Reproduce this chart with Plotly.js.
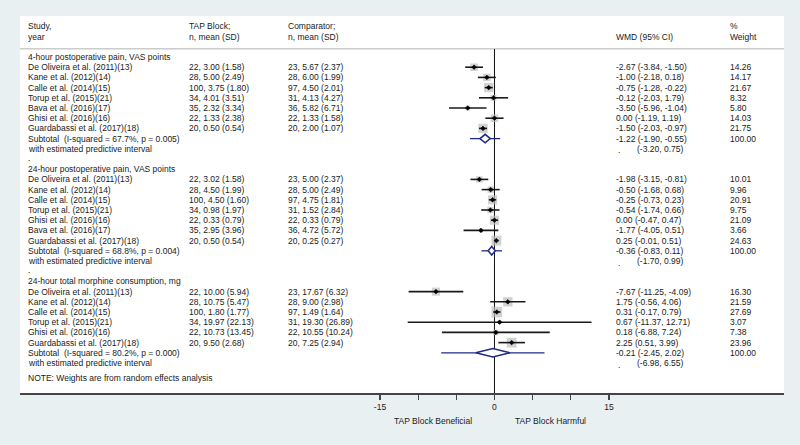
<!DOCTYPE html>
<html>
<head>
<meta charset="utf-8">
<script src="https://cdn.plot.ly/plotly-3.0.1.min.js"></script>
<style>html,body{margin:0;padding:0;background:#e9f0f2;}#chart{width:800px;height:445px;}</style>
</head>
<body>
<div id="chart"></div>
<script>
// ---------- DATA ----------
var groupTitles = ["4-hour postoperative pain, VAS points", "24-hour postoperative pain, VAS points", "24-hour total morphine consumption, mg"];

var studies1 = ["De Oliveira et al. (2011)(13)", "Kane et al. (2012)(14)", "Calle et al. (2014)(15)", "Torup et al. (2015)(21)", "Bava et al. (2016)(17)", "Ghisi et al. (2016)(16)", "Guardabassi et al. (2017)(18)"];
var tap1 = ["22, 3.00 (1.58)", "28, 5.00 (2.49)", "100, 3.75 (1.80)", "34, 4.01 (3.51)", "35, 2.32 (3.34)", "22, 1.33 (2.38)", "20, 0.50 (0.54)"];
var comp1 = ["23, 5.67 (2.37)", "28, 6.00 (1.99)", "97, 4.50 (2.01)", "31, 4.13 (4.27)", "36, 5.82 (6.71)", "22, 1.33 (1.58)", "20, 2.00 (1.07)"];
var wmd1 = [-2.67, -1.00, -0.75, -0.12, -3.50, 0.00, -1.50];
var lo1 = [-3.84, -2.18, -1.28, -2.03, -5.96, -1.19, -2.03];
var hi1 = [-1.50, 0.18, -0.22, 1.79, -1.04, 1.19, -0.97];
var w1 = [14.26, 14.17, 21.67, 8.32, 5.80, 14.03, 21.75];

var studies2 = ["De Oliveira et al. (2011)(13)", "Kane et al. (2012)(14)", "Calle et al. (2014)(15)", "Torup et al. (2015)(21)", "Ghisi et al. (2016)(16)", "Bava et al. (2016)(17)", "Guardabassi et al. (2017)(18)"];
var tap2 = ["22, 3.02 (1.58)", "28, 4.50 (1.99)", "100, 4.50 (1.60)", "34, 0.98 (1.97)", "22, 0.33 (0.79)", "35, 2.95 (3.96)", "20, 0.50 (0.54)"];
var comp2 = ["23, 5.00 (2.37)", "28, 5.00 (2.49)", "97, 4.75 (1.81)", "31, 1.52 (2.84)", "22, 0.33 (0.79)", "36, 4.72 (5.72)", "20, 0.25 (0.27)"];
var wmd2 = [-1.98, -0.50, -0.25, -0.54, 0.00, -1.77, 0.25];
var lo2 = [-3.15, -1.68, -0.73, -1.74, -0.47, -4.05, -0.01];
var hi2 = [-0.81, 0.68, 0.23, 0.66, 0.47, 0.51, 0.51];
var w2 = [10.01, 9.96, 20.91, 9.75, 21.09, 3.66, 24.63];

var studies3 = ["De Oliveira et al. (2011)(13)", "Kane et al. (2012)(14)", "Calle et al. (2014)(15)", "Torup et al. (2015)(21)", "Ghisi et al. (2016)(16)", "Guardabassi et al. (2017)(18)"];
var tap3 = ["22, 10.00 (5.94)", "28, 10.75 (5.47)", "100, 1.80 (1.77)", "34, 19.97 (22.13)", "22, 10.73 (13.45)", "20, 9.50 (2.68)"];
var comp3 = ["23, 17.67 (6.32)", "28, 9.00 (2.98)", "97, 1.49 (1.64)", "31, 19.30 (26.89)", "22, 10.55 (10.24)", "20, 7.25 (2.94)"];
var wmd3 = [-7.67, 1.75, 0.31, 0.67, 0.18, 2.25];
var lo3 = [-11.25, -0.56, -0.17, -11.37, -6.88, 0.51];
var hi3 = [-4.09, 4.06, 0.79, 12.71, 7.24, 3.99];
var w3 = [16.30, 21.59, 27.69, 3.07, 7.38, 23.96];

var subI2 = ["67.7%", "68.8%", "80.2%"];
var subP = ["0.005", "0.004", "0.000"];
var subEst = [-1.22, -0.36, -0.21];
var subLo = [-1.90, -0.83, -2.45];
var subHi = [-0.55, 0.11, 2.02];
var predLo = [-3.20, -1.70, -6.98];
var predHi = [0.75, 0.99, 6.55];

var tickVals = [-15, -10, -5, 0, 5, 10, 15];
var tickText = ["-15", "", "", "0", "", "", "15"];

// ---------- BUILD ----------
var groups = [
  {s: studies1, t: tap1, c: comp1, e: wmd1, lo: lo1, hi: hi1, w: w1},
  {s: studies2, t: tap2, c: comp2, e: wmd2, lo: lo2, hi: hi2, w: w2},
  {s: studies3, t: tap3, c: comp3, e: wmd3, lo: lo3, hi: hi3, w: w3}
];

var FONT = "Liberation Sans, Arial, sans-serif";
var FS = 8.5;
var TXT = "#1a1a1a";
var NAVY = "#1f2a80";
function px(x) { return (x - 20) / 764; }
var colStudy = px(26), colTap = px(187), colComp = px(286), colWmd = px(614), colW = px(728), colPred = px(635), colDot = px(616);

var ann = [];
function addText(x, y, text, opts) {
  var a = {xref: "paper", yref: "y", x: x, y: y, text: text, showarrow: false,
    xanchor: "left", yanchor: "middle", font: {family: FONT, size: FS, color: TXT}};
  if (opts) for (var k in opts) a[k] = opts[k];
  ann.push(a);
}
function f2(v) { return v.toFixed(2); }

// header
addText(colStudy, -3, "Study,");
addText(colStudy, -2, "year");
addText(colTap, -3, "TAP Block;");
addText(colTap, -2, "n, mean (SD)");
addText(colComp, -3, "Comparator;");
addText(colComp, -2, "n, mean (SD)");
addText(colWmd, -2, "WMD (95% CI)");
addText(colW, -3, "%");
addText(colW, -2, "Weight");

var ciX = [], ciY = [], boxX = [], boxY = [], boxS = [], ptX = [], ptY = [];
var predX = [], predY = [];
var diamonds = [];
var row = 0;
groups.forEach(function (g, gi) {
  addText(colStudy, row, groupTitles[gi]);
  row++;
  for (var i = 0; i < g.s.length; i++) {
    addText(colStudy, row, g.s[i]);
    addText(colTap, row, g.t[i]);
    addText(colComp, row, g.c[i]);
    addText(colWmd, row, f2(g.e[i]) + " (" + f2(g.lo[i]) + ", " + f2(g.hi[i]) + ")");
    addText(colW, row, f2(g.w[i]));
    ciX.push(g.lo[i], g.hi[i], null); ciY.push(row, row, null);
    boxX.push(g.e[i]); boxY.push(row); boxS.push(2.0 * Math.sqrt(g.w[i]));
    ptX.push(g.e[i]); ptY.push(row);
    row++;
  }
  // subtotal
  addText(colStudy, row, "Subtotal\u00a0 (I-squared = " + subI2[gi] + ", p = " + subP[gi] + ")");
  addText(colWmd, row, f2(subEst[gi]) + " (" + f2(subLo[gi]) + ", " + f2(subHi[gi]) + ")");
  addText(colW, row, "100.00");
  predX.push(predLo[gi], predHi[gi], null); predY.push(row, row, null);
  var h = 0.42;
  diamonds.push({x: [subLo[gi], subEst[gi], subHi[gi], subEst[gi], subLo[gi]],
                 y: [row, row - h, row, row + h, row]});
  row++;
  addText(colStudy, row, "with estimated predictive interval");
  addText(colDot, row + 0.15, ".");
  addText(colPred, row, "(" + f2(predLo[gi]) + ", " + f2(predHi[gi]) + ")");
  row++;
  if (gi < groups.length - 1) {
    addText(colStudy, row - 0.1, ".");
    row++;
  }
});
addText(colStudy, row + 0.5, "NOTE: Weights are from random effects analysis");

// axis labels
ann.push({xref: "paper", yref: "paper", x: px(433), y: -0.074, text: "TAP Block Beneficial", showarrow: false,
  xanchor: "center", yanchor: "middle", font: {family: FONT, size: FS, color: TXT}});
ann.push({xref: "paper", yref: "paper", x: px(550), y: -0.074, text: "TAP Block Harmful", showarrow: false,
  xanchor: "center", yanchor: "middle", font: {family: FONT, size: FS, color: TXT}});

var traces = [];
traces.push({type: "scatter", mode: "markers", x: boxX, y: boxY, hoverinfo: "skip",
  marker: {symbol: "square", size: boxS, color: "#bfbfbf", line: {width: 0}}});
traces.push({type: "scatter", mode: "lines", x: ciX, y: ciY, hoverinfo: "skip",
  line: {color: "#1a1a1a", width: 1.6}});
traces.push({type: "scatter", mode: "markers", x: ptX, y: ptY, hoverinfo: "skip",
  marker: {symbol: "diamond", size: 3.6, color: "#000000", line: {color: "#000000", width: 0.5}}});
traces.push({type: "scatter", mode: "lines", x: predX, y: predY, hoverinfo: "skip",
  line: {color: NAVY, width: 1.3}});
diamonds.forEach(function (d) {
  traces.push({type: "scatter", mode: "lines", x: d.x, y: d.y, fill: "toself", fillcolor: "#ffffff",
    hoverinfo: "skip", line: {color: NAVY, width: 1.5}});
});

var layout = {
  width: 800, height: 445,
  margin: {l: 20, r: 16, t: 16, b: 52},
  paper_bgcolor: "#e9f0f2",
  plot_bgcolor: "#ffffff",
  showlegend: false,
  font: {family: FONT, size: FS, color: TXT},
  xaxis: {range: [-62.16, 37.93], showgrid: false, zeroline: false, showline: true, linecolor: "#444444",
    linewidth: 1.5, ticks: "outside", ticklen: 5, tickwidth: 1.2, tickcolor: "#444444",
    tickmode: "array", tickvals: tickVals, ticktext: tickText,
    tickfont: {family: FONT, size: FS, color: TXT}, fixedrange: true},
  yaxis: {range: [32.94, -4.02], visible: false, showgrid: false, zeroline: false, fixedrange: true},
  shapes: [
    {type: "line", xref: "paper", yref: "y", x0: 0, x1: 1, y0: -0.8, y1: -0.8,
     line: {color: "#cccccc", width: 1.5}, layer: "below"},
    {type: "line", xref: "x", yref: "paper", x0: 0, x1: 0, y0: 0, y1: (393 - 49) / 377,
     line: {color: "#111111", width: 1}, layer: "below"}
  ],
  annotations: ann
};

Plotly.newPlot("chart", traces, layout, {staticPlot: true, displayModeBar: false});
</script>
</body>
</html>
